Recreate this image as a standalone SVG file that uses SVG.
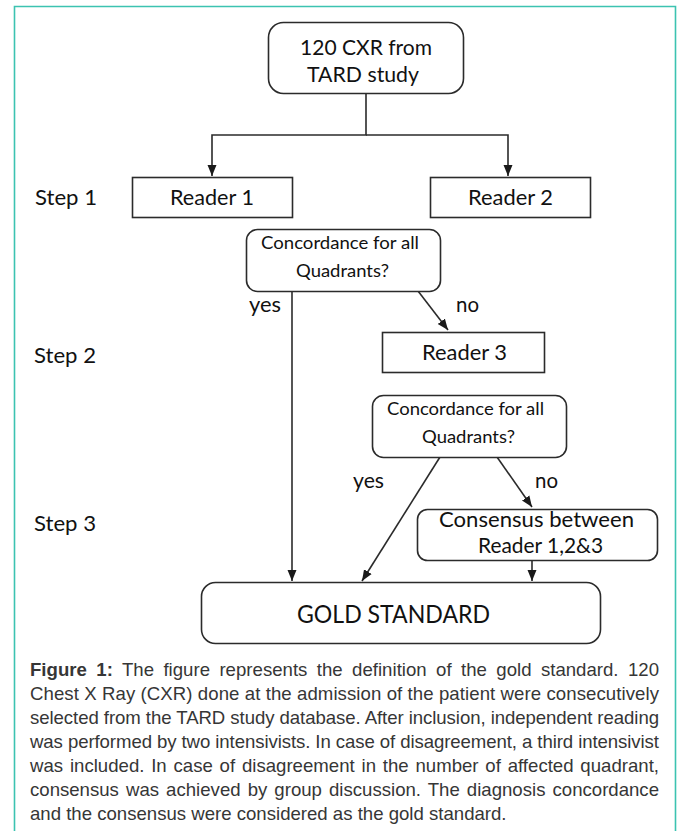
<svg xmlns="http://www.w3.org/2000/svg" width="681" height="831" viewBox="0 0 681 831">
<defs>
<style>
.box{fill:#fff;stroke:#2b2b2b;stroke-width:1.6}
.lbl{font-family:Lato,"Open Sans","DejaVu Sans",sans-serif;fill:#111}
.t24{font-size:21.5px}
.t20{font-size:18px}
.t27{font-size:24.5px}
.conn{fill:none;stroke:#2b2b2b;stroke-width:1.6}
.cap{font-family:"Liberation Sans",Arial,sans-serif;font-size:18.6px;fill:#363636}
</style>
<marker id="ah" markerUnits="userSpaceOnUse" markerWidth="12" markerHeight="12" viewBox="0 0 12 12" refX="11" refY="6" orient="auto">
<path d="M0,1.5 L11,6 L0,10.5 Z" fill="#1a1a1a"/>
</marker>
</defs>
<rect width="681" height="831" fill="#fff"/>
<path d="M14.5,831 V6.5 H675.5 V831" fill="none" stroke="#3cc3b1" stroke-width="1.6"/>

<g id="connectors">
<path class="conn" d="M366,94 V135 H212 V176" marker-end="url(#ah)"/>
<path class="conn" d="M366,135 H508 V176" marker-end="url(#ah)"/>
<path class="conn" d="M292,291 V581" marker-end="url(#ah)"/>
<path class="conn" d="M418,291 L448,330" marker-end="url(#ah)"/>
<path class="conn" d="M440,457 L362,581" marker-end="url(#ah)"/>
<path class="conn" d="M497,457 L532,507" marker-end="url(#ah)"/>
<path class="conn" d="M532,560 V581" marker-end="url(#ah)"/>
</g>

<g id="start">
<rect class="box" x="268.5" y="22.5" width="195" height="71" rx="15"/>
<text class="lbl t24" x="300" y="55" textLength="132" lengthAdjust="spacingAndGlyphs">120 CXR from</text>
<text class="lbl t24" x="307" y="82" textLength="112" lengthAdjust="spacingAndGlyphs">TARD study</text>
</g>

<g id="reader1">
<rect class="box" x="132.5" y="177.5" width="160" height="40"/>
<text class="lbl t24" x="170" y="204.5" textLength="84" lengthAdjust="spacingAndGlyphs">Reader 1</text>
</g>

<g id="reader2">
<rect class="box" x="430.5" y="177.5" width="160" height="40"/>
<text class="lbl t24" x="468" y="204.5" textLength="85" lengthAdjust="spacingAndGlyphs">Reader 2</text>
</g>

<g id="concordance1">
<rect class="box" x="246.5" y="229.5" width="194" height="62" rx="11"/>
<text class="lbl t20" x="261" y="249" textLength="158" lengthAdjust="spacingAndGlyphs">Concordance for all</text>
<text class="lbl t20" x="296" y="277" textLength="93" lengthAdjust="spacingAndGlyphs">Quadrants?</text>
</g>

<g id="reader3">
<rect class="box" x="382.5" y="332.5" width="162" height="40"/>
<text class="lbl t24" x="422" y="360" textLength="85" lengthAdjust="spacingAndGlyphs">Reader 3</text>
</g>

<g id="concordance2">
<rect class="box" x="372.5" y="395.5" width="194" height="62" rx="11"/>
<text class="lbl t20" x="387" y="415" textLength="157" lengthAdjust="spacingAndGlyphs">Concordance for all</text>
<text class="lbl t20" x="422" y="443" textLength="93" lengthAdjust="spacingAndGlyphs">Quadrants?</text>
</g>

<g id="consensus">
<rect class="box" x="417.5" y="509.5" width="240" height="51" rx="10"/>
<text class="lbl t24" x="439" y="527" textLength="195" lengthAdjust="spacingAndGlyphs">Consensus between</text>
<text class="lbl t24" x="478" y="553" textLength="125" lengthAdjust="spacingAndGlyphs">Reader 1,2&amp;3</text>
</g>

<g id="gold">
<rect class="box" x="201.5" y="582.5" width="399" height="61" rx="14"/>
<text class="lbl t27" x="297" y="623" textLength="193" lengthAdjust="spacingAndGlyphs">GOLD STANDARD</text>
</g>

<g id="labels">
<text class="lbl t24" x="35" y="205" textLength="62" lengthAdjust="spacingAndGlyphs">Step 1</text>
<text class="lbl t24" x="34" y="363" textLength="62" lengthAdjust="spacingAndGlyphs">Step 2</text>
<text class="lbl t24" x="34" y="531" textLength="62" lengthAdjust="spacingAndGlyphs">Step 3</text>
<text class="lbl t24" x="249" y="312" textLength="32" lengthAdjust="spacingAndGlyphs">yes</text>
<text class="lbl t24" x="456" y="312" textLength="23" lengthAdjust="spacingAndGlyphs">no</text>
<text class="lbl t24" x="353" y="488" textLength="31" lengthAdjust="spacingAndGlyphs">yes</text>
<text class="lbl t24" x="535" y="488" textLength="23" lengthAdjust="spacingAndGlyphs">no</text>
</g>

<g id="caption">
<text class="cap" x="30" y="676" word-spacing="4.2" textLength="629" lengthAdjust="spacing"><tspan font-weight="bold">Figure 1:</tspan> The figure represents the definition of the gold standard. 120</text>
<text class="cap" x="30" y="700" textLength="629" lengthAdjust="spacing">Chest X Ray (CXR) done at the admission of the patient were consecutively</text>
<text class="cap" x="30" y="724" textLength="629" lengthAdjust="spacing">selected from the TARD study database. After inclusion, independent reading</text>
<text class="cap" x="30" y="748" textLength="629" lengthAdjust="spacing">was performed by two intensivists. In case of disagreement, a third intensivist</text>
<text class="cap" x="30" y="772" word-spacing="1.6" textLength="629" lengthAdjust="spacing">was included. In case of disagreement in the number of affected quadrant,</text>
<text class="cap" x="30" y="796" word-spacing="1.9" textLength="629" lengthAdjust="spacing">consensus was achieved by group discussion. The diagnosis concordance</text>
<text class="cap" x="30" y="820">and the consensus were considered as the gold standard.</text>
</g>
</svg>
